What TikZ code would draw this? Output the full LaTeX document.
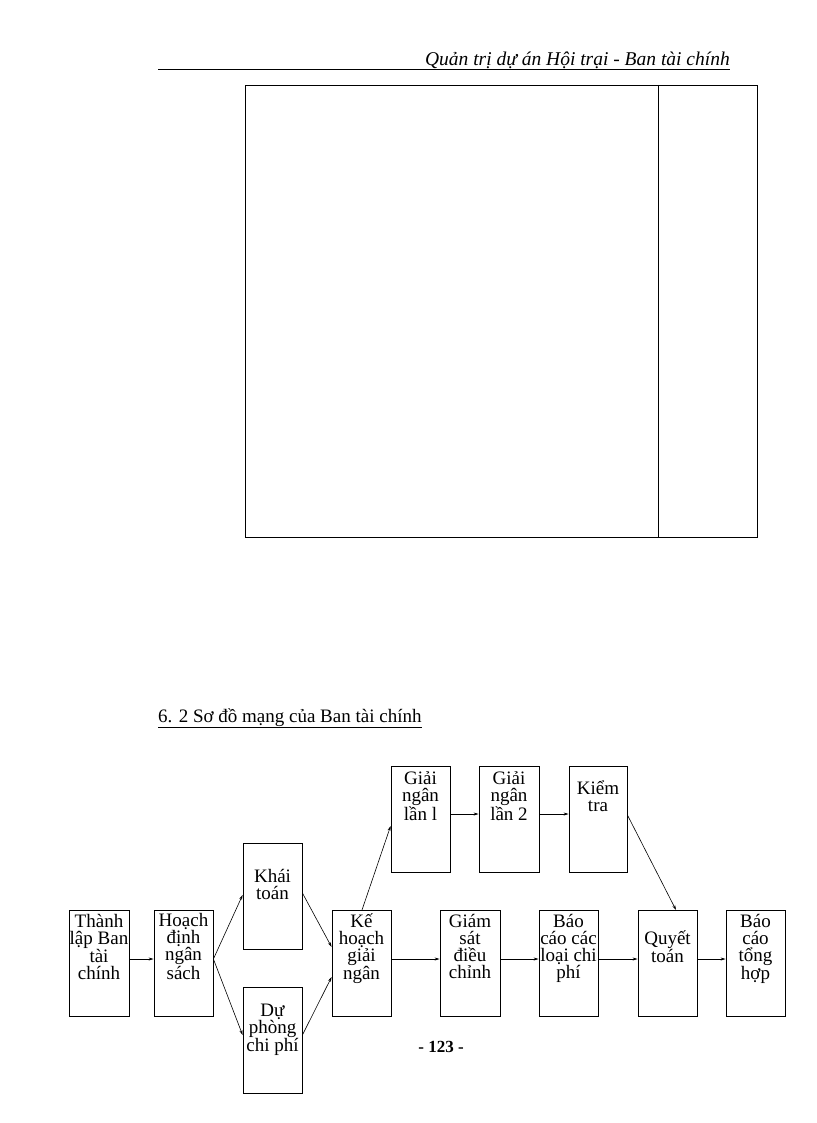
\documentclass[tikz,border=0pt]{standalone}
\usepackage{fontspec}
\setmainfont{Liberation Serif}
\usetikzlibrary{arrows.meta}
\begin{document}
\begin{tikzpicture}[x=1pt,y=-1pt,
  bx/.style={draw,line width=0.8pt},
  tx/.style={anchor=north,align=center,font=\fontsize{19}{17}\selectfont,inner sep=0pt},
  ar/.style={-{Stealth[length=5pt,width=3pt]},line width=0.6pt}]
\useasboundingbox (0,0) rectangle (816,1123);
\node[anchor=base east,font=\itshape\fontsize{19.5}{20}\selectfont,inner sep=0pt] (hd) at (730,66) {Quản trị dự án Hội trại - Ban tài chính};
\draw[line width=0.6pt] (158,69) -- (730,69);
\draw[line width=0.8pt] (245,85) rectangle (757,537);
\draw[line width=0.8pt] (658,85) -- (658,537);
\node[anchor=base west,font=\fontsize{19}{20}\selectfont,inner sep=0pt] (sec) at (158,722) {\underline{6. 2 Sơ đồ mạng của Ban tài chính}};
\node[font=\bfseries\fontsize{17}{18}\selectfont] (pg) at (441,1047) {- 123 -};
% boxes
\newcommand\bxx[4]{\node[bx,minimum width=#3-#2,minimum height=106,inner sep=0pt] (#1) at ({(#2+#3)/2},{#4+53}) {};}
\bxx{A}{69}{129}{910}
\bxx{B}{154}{213}{910}
\bxx{C}{243}{302}{843}
\bxx{D}{243}{302}{987}
\bxx{E}{332}{391}{910}
\bxx{F}{391}{450}{766}
\bxx{G}{479}{539}{766}
\bxx{H}{569}{627}{766}
\bxx{I}{440}{500}{910}
\bxx{J}{539}{598}{910}
\bxx{K}{638}{697}{910}
\bxx{L}{726}{785}{910}
\node[tx] at (A.north) [yshift=-4] {Thành\\lập Ban\\tài\\chính};
\node[tx] at (B.north) [yshift=-4] {Hoạch\\định\\ngân\\sách};
\node[tx] at (C.north) [yshift=-26] {Khái\\toán};
\node[tx] at (D.north) [yshift=-17] {Dự\\phòng\\chi phí};
\node[tx] at (E.north) [yshift=-4] {Kế\\hoạch\\giải\\ngân};
\node[tx] at (F.north) [yshift=-6] {Giải\\ngân\\lần l};
\node[tx] at (G.north) [yshift=-6] {Giải\\ngân\\lần 2};
\node[tx] at (H.north) [yshift=-15] {Kiểm\\tra};
\node[tx] at (I.north) [yshift=-4] {Giám\\sát\\điều\\chỉnh};
\node[tx] at (J.north) [yshift=-4] {Báo\\cáo các\\loại chi\\phí};
\node[tx] at (K.north) [yshift=-21] {Quyết\\toán};
\node[tx] at (L.north) [yshift=-4] {Báo\\cáo\\tổng\\hợp};
% arrows
\draw[ar] (A.east|-0,959) -- (B.west|-0,959);
\draw[ar] (B.east|-0,959) -- (C.west|-0,895);
\draw[ar] (B.east|-0,959) -- (D.west|-0,1035);
\draw[ar] (C.east|-0,893) -- (E.west|-0,947);
\draw[ar] (D.east|-0,1035) -- (E.west|-0,977);
\draw[ar] (362,910) -- (F.west|-0,826);
\draw[ar] (F.east|-0,814) -- (G.west|-0,814);
\draw[ar] (G.east|-0,814) -- (H.west|-0,814);
\draw[ar] (H.east|-0,815) -- (676,910);
\draw[ar] (E.east|-0,959) -- (I.west|-0,959);
\draw[ar] (I.east|-0,959) -- (J.west|-0,959);
\draw[ar] (J.east|-0,959) -- (K.west|-0,959);
\draw[ar] (K.east|-0,959) -- (L.west|-0,959);
\end{tikzpicture}
\end{document}
